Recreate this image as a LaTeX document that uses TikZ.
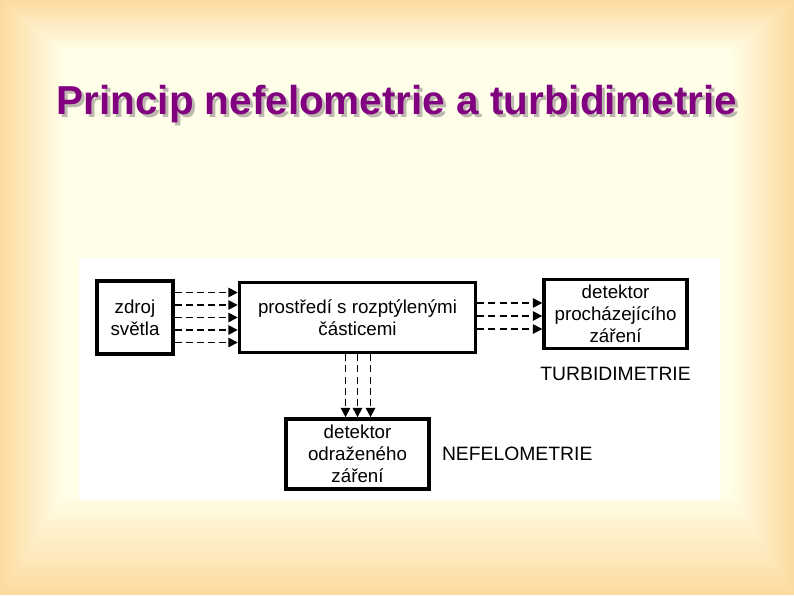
\documentclass[tikz,border=0pt]{standalone}
\usepackage{fontspec}
\setmainfont{Liberation Sans}
\usetikzlibrary{positioning, arrows.meta, calc}
\definecolor{slideout}{HTML}{FCDBA0}
\definecolor{slidein}{HTML}{FFFEE8}
\definecolor{titlepurple}{HTML}{800080}
\definecolor{titleshade}{HTML}{BDB8AE}

\begin{document}
\begin{tikzpicture}[x=0.03cm, y=-0.03cm,
    box/.style={draw=black, line width=3pt, fill=white, align=center, inner sep=0pt, font=\fontsize{16}{18.7}\selectfont},
    tag/.style={inner sep=0pt, font=\fontsize{16.5}{19}\selectfont},
    beam/.style={line width=1.4pt, dash pattern=on 6pt off 3.5pt, -{Triangle[length=8pt,width=8pt]}}]
  % slide background
  \useasboundingbox (0,0) rectangle (794,595);
  \foreach \i in {0,...,25}{
    \pgfmathsetmacro\mixval{\i*4}
    \fill[slidein!\mixval!slideout] (2.5*\i,2*\i) rectangle (794-2.5*\i,595-4*\i);
  }
  \node[font=\fontsize{34.5}{38}\selectfont\bfseries, text=titleshade] at (400,107) {Princip nefelometrie a turbidimetrie};
  \node[font=\fontsize{34.5}{38}\selectfont\bfseries, text=titlepurple] (title) at (397,104) {Princip nefelometrie a turbidimetrie};
  \fill[white] (79,258) rectangle (720,500);
  % boxes
  \node[box, minimum width=2.28cm, minimum height=2.19cm] (src) at (135,317.5) {zdroj\\světla};
  \node[box, right=1.89cm of src, minimum width=7.08cm, minimum height=2.1cm] (med) {prostředí s rozptýlenými\\částicemi};
  \node[box, right=1.95cm of med, yshift=0.105cm, minimum width=4.29cm, minimum height=2.07cm] (det1) {detektor\\procházejícího\\záření};
  \node[box, below=1.89cm of med, minimum width=4.29cm, minimum height=2.1cm] (det2) {detektor\\odraženého\\záření};
  \node[tag, below=0.5cm of det1] (turb) {TURBIDIMETRIE};
  \node[tag, right=0.33cm of det2] (nefel) {NEFELOMETRIE};
  % beams
  \foreach \dy in {0.75,0.375,0,-0.375,-0.75}
    \draw[beam] ([yshift=\dy cm]src.east) -- ([yshift=\dy cm]med.west);
  \foreach \dy in {0.435,0.045,-0.345}
    \draw[beam] ([yshift=\dy cm]med.east) -- ([yshift=\dy cm-0.105cm]det1.west);
  \foreach \dx in {-0.36,0,0.39}
    \draw[beam] ([xshift=\dx cm]med.south) -- ([xshift=\dx cm]det2.north);
\end{tikzpicture}
\end{document}
